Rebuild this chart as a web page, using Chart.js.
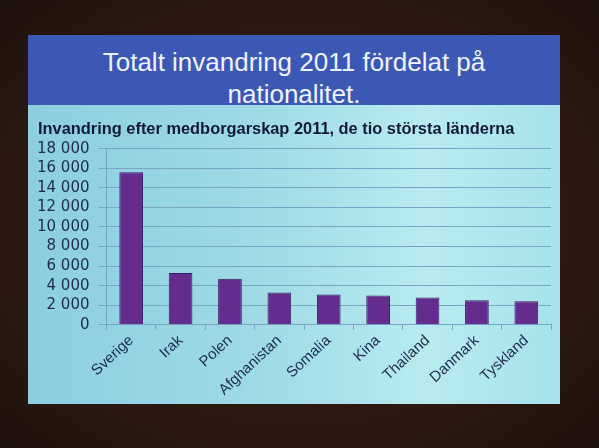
<!DOCTYPE html>
<html>
<head>
<meta charset="utf-8">
<script src="https://cdn.jsdelivr.net/npm/chart.js@4.4.1/dist/chart.umd.min.js"></script>
<style>
  html, body { margin:0; padding:0; }
  body { width:599px; height:448px; overflow:hidden; position:relative;
         background: radial-gradient(ellipse at 50% 50%, #3a2219 0%, #2a1711 70%, #1f110c 100%); }
  #slide { position:absolute; left:28px; top:35px; width:532px; height:369px;
           background: linear-gradient(90deg, #8ccedf 0%, #a0dbe6 45%, #b7ebf0 75%, #a8e1ea 100%); }
  #band { position:absolute; left:0; top:0; width:532px; height:70px; background:#3c58b5;
          color:#eef3ff; font-family:"Liberation Sans", Arial, sans-serif; font-size:26px;
          line-height:32px; text-align:center; padding-top:11px; box-sizing:border-box; }
  #wrap { position:absolute; left:0; top:70px; width:532px; height:299px; }
</style>
</head>
<body>
<div id="slide">
  <div id="band">Totalt invandring 2011 fördelat på<br>nationalitet.</div>
  <div id="wrap"><canvas id="c"></canvas></div>
</div>
<script>
const chartTitle = 'Invandring efter medborgarskap 2011, de tio största länderna';
const categories = ['Sverige','Irak','Polen','Afghanistan','Somalia','Kina','Thailand','Danmark','Tyskland'];
const values = [15600, 5300, 4700, 3300, 3100, 3000, 2800, 2500, 2400];
const yMin = 0, yMax = 18000, yStep = 2000;

function fmt(v) { return String(v).replace(/\B(?=(\d{3})+(?!\d))/g, ' '); }

const gridColor = '#79a5c4';
const textColor = '#1d2a52';

new Chart(document.getElementById('c'), {
  type: 'bar',
  data: {
    labels: categories,
    datasets: [{
      data: values,
      backgroundColor: '#652c90',
      borderColor: '#3a1e68',
      borderWidth: 1,
      barPercentage: 0.6,
      categoryPercentage: 0.8
    }]
  },
  options: {
    responsive: true,
    maintainAspectRatio: false,
    animation: false,
    layout: { padding: { left: 10, right: 9, top: 0, bottom: 3 } },
    plugins: {
      legend: { display: false },
      tooltip: { enabled: false },
      title: {
        display: true,
        text: chartTitle,
        align: 'start',
        color: '#101a38',
        font: { family: '"Liberation Sans", Arial, sans-serif', size: 16.4, weight: 'bold' },
        padding: { top: 15, bottom: 9 }
      }
    },
    scales: {
      y: {
        min: yMin, max: yMax,
        afterFit: (s) => { s.width -= 10; },
        ticks: {
          stepSize: yStep,
          autoSkip: false,
          callback: (v) => fmt(v),
          color: textColor,
          font: { family: '"DejaVu Sans", Verdana, sans-serif', size: 15 },
          padding: 9
        },
        grid: { color: gridColor, lineWidth: 1, tickLength: 8 },
        border: { display: true, color: gridColor, width: 1 }
      },
      x: {
        ticks: {
          minRotation: 43, maxRotation: 43,
          color: textColor,
          font: { family: '"Liberation Sans", Arial, sans-serif', size: 15 },
          padding: 2
        },
        grid: { display: true, drawOnChartArea: false, drawTicks: true, tickLength: 5, color: gridColor },
        border: { display: true, color: gridColor, width: 1 }
      }
    }
  }
});
</script>
</body>
</html>
